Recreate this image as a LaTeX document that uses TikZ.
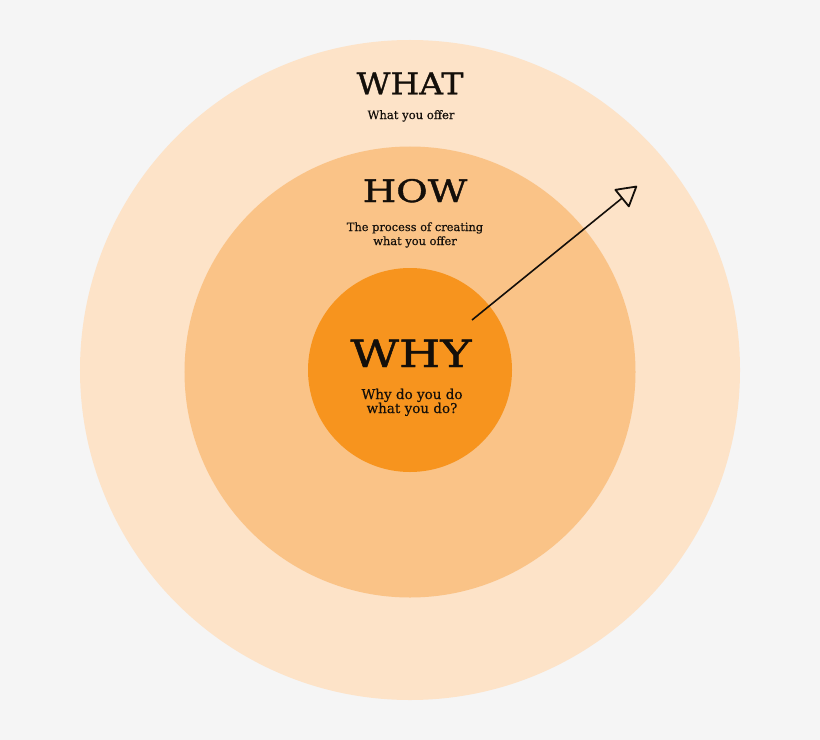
\documentclass[tikz,border=0pt]{standalone}
\usepackage{fontspec}
\setmainfont{DejaVu Serif}
\newfontfamily\subfont[FakeBold=0.4]{DejaVu Serif}
\newfontfamily\ttlfont[FakeBold=1.1]{DejaVu Serif}
\usetikzlibrary{arrows.meta}
\definecolor{bg}{RGB}{245,245,245}
\definecolor{outerc}{RGB}{253,227,200}
\definecolor{midc}{RGB}{250,195,135}
\definecolor{innerc}{RGB}{247,148,30}
\definecolor{ink}{RGB}{20,15,10}
\newcommand{\wide}[2]{\scalebox{#1}[1]{#2}}
\tikzset{
  ring/.style={circle, inner sep=0pt, draw=none},
  title/.style={anchor=base, text=ink, inner sep=0pt, font=\fontsize{#1}{#1}\selectfont\ttlfont},
  sub/.style={anchor=base, text=ink, inner sep=0pt, font=\fontsize{#1}{#1}\selectfont\subfont},
}
\begin{document}
\begin{tikzpicture}[x=1bp,y=-1bp]
\fill[bg] (0,0) rectangle (820,740);
\node[ring, fill=outerc, minimum size=660bp] (what) at (410,370) {};
\node[ring, fill=midc, minimum size=451bp] (how) at (410,372) {};
\node[ring, fill=innerc, minimum size=204bp] (why) at (410,370) {};
\node[title=30bp] (whatT) at (410,94.3) {\wide{1.1}{WHAT}};
\node[sub=11.6bp] (whatS) at (411,119) {What you offer};
\node[title=31bp] (howT) at (415,202) {\wide{1.24}{HOW}};
\node[sub=11.4bp] (howS1) at (415,231) {The process of creating};
\node[sub=11.4bp] (howS2) at (415,245) {what you offer};
\node[title=37.5bp] (whyT) at (411,367) {\wide{1.26}{WHY}};
\node[sub=13.5bp] (whyS1) at (412,399) {Why do you do};
\node[sub=13.5bp] (whyS2) at (412,413) {what you do?};
\coordinate (aStart) at (472,320);
\coordinate (aEnd) at (637,186);
\draw[ink, line width=1.6bp, -{Triangle[open, length=21bp, width=24bp, line width=1.8bp, round]}] (aStart) -- (aEnd);
\end{tikzpicture}
\end{document}
